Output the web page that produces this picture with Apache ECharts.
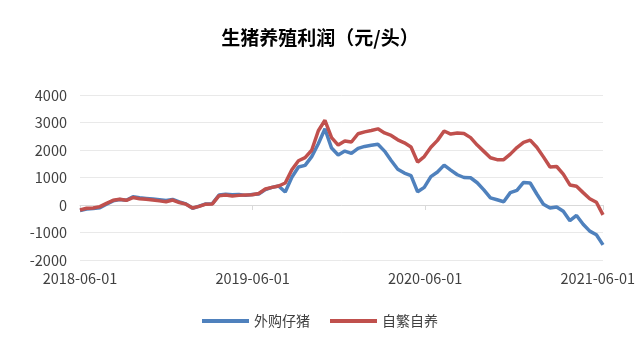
<!DOCTYPE html>
<html>
<head>
<meta charset="utf-8">
<script src="https://cdn.jsdelivr.net/npm/echarts@6/dist/echarts.min.js"></script>
<style>
html,body{margin:0;padding:0;background:#fff;}
#chart{width:640px;height:352px;}
</style>
</head>
<body>
<div id="chart"></div>
<script>
// Dates: days since 2018-06-01, sampled every 14 days
const startDate = '2018-06-01';
const stepDays = 14;
const tickLabels = ['2018-06-01', '2019-06-01', '2020-06-01', '2021-06-01'];
const seriesNames = ['外购仔猪', '自繁自养'];

// 外购仔猪 (元/头)
const purchasedPiglets = [
  -200, -150, -130, -100, 30, 150, 200, 170, 300, 260,
  240, 220, 190, 160, 200, 110, 40, -120, -40, 40,
  50, 360, 390, 370, 380, 350, 380, 400, 560, 640,
  690, 470, 1010, 1380, 1440, 1760, 2230, 2770, 2070, 1820,
  1960, 1880, 2060, 2130, 2170, 2210, 1960, 1620, 1300, 1160,
  1070, 480, 640, 1030, 1200, 1450, 1270, 1100, 1000, 990,
  810, 550, 260, 190, 120, 450, 530, 820, 800, 400,
  30, -110, -70, -230, -570, -380, -700, -950, -1080, -1450
];
// 自繁自养 (元/头)
const selfBred = [
  -180, -120, -110, -60, 60, 170, 210, 170, 270, 230,
  210, 180, 150, 120, 180, 90, 30, -110, -50, 30,
  40, 340, 360, 330, 350, 360, 370, 420, 580, 640,
  690, 800, 1280, 1610, 1720, 1990, 2700, 3080, 2450, 2180,
  2330, 2290, 2590, 2660, 2710, 2770, 2620, 2530, 2370, 2260,
  2110, 1560, 1760, 2100, 2350, 2690, 2580, 2620, 2600, 2450,
  2180, 1950, 1720, 1650, 1650, 1850, 2090, 2280, 2360, 2100,
  1750, 1380, 1400, 1120, 730, 680, 450, 230, 100, -360
];

const days = purchasedPiglets.map((_, i) => i * stepDays);
const maxDay = days[days.length - 1];
const toPairs = arr => arr.map((v, i) => [days[i], v]);

const font = '"Noto Sans CJK SC", "Microsoft YaHei", sans-serif';
const chart = echarts.init(document.getElementById('chart'), null, {renderer: 'canvas'});
chart.setOption({
  animation: false,
  backgroundColor: '#ffffff',
  textStyle: {fontFamily: font},
  title: {
    text: '生猪养殖利润（元/头）',
    left: 'center',
    top: 23,
    textStyle: {fontSize: 19, fontWeight: 'bold', color: '#000', fontFamily: font}
  },
  legend: {
    bottom: 19,
    left: 'center',
    icon: 'rect',
    itemWidth: 47,
    itemHeight: 4,
    itemGap: 20,
    textStyle: {fontSize: 14, color: '#404040', fontFamily: font},
    data: seriesNames
  },
  grid: {left: 80, right: 37, top: 95, bottom: 92, containLabel: false},
  xAxis: [{
    type: 'value',
    min: 0,
    max: maxDay,
    interval: 365,
    position: 'bottom',
    axisLine: {show: false, onZero: false},
    axisTick: {show: false},
    splitLine: {show: false},
    axisLabel: {
      show: true,
      fontSize: 14.5,
      color: '#404040',
      margin: 11,
      showMaxLabel: false,
      hideOverlap: false,
      fontFamily: font,
      formatter: function (v) {
        const idx = Math.round(v / 365);
        if (Math.abs(v - idx * 365) < 1 && idx < tickLabels.length) return tickLabels[idx];
        return '';
      }
    }
  }, {
    type: 'value',
    min: 0,
    max: maxDay,
    interval: 365,
    position: 'bottom',
    axisLine: {show: true, onZero: true, lineStyle: {color: '#d9d9d9', width: 1}},
    axisTick: {show: true, length: 5, lineStyle: {color: '#d9d9d9'}},
    axisLabel: {show: false},
    splitLine: {show: false}
  }],
  yAxis: {
    type: 'value',
    min: -2000,
    max: 4000,
    interval: 1000,
    axisLine: {show: false},
    axisTick: {show: false},
    axisLabel: {fontSize: 14.5, color: '#404040', margin: 13, fontFamily: font,
      formatter: function (v) { return String(v); }},
    splitLine: {lineStyle: {color: '#e9e9e9', width: 1}}
  },
  series: [{
    name: seriesNames[0],
    type: 'line',
    xAxisIndex: 0,
    data: toPairs(purchasedPiglets),
    showSymbol: false,
    symbol: 'none',
    lineStyle: {width: 3.5, color: '#4F81BD'},
    itemStyle: {color: '#4F81BD'}
  }, {
    name: seriesNames[1],
    type: 'line',
    xAxisIndex: 0,
    data: toPairs(selfBred),
    showSymbol: false,
    symbol: 'none',
    lineStyle: {width: 3.5, color: '#C0504D'},
    itemStyle: {color: '#C0504D'}
  }]
});
</script>
</body>
</html>
